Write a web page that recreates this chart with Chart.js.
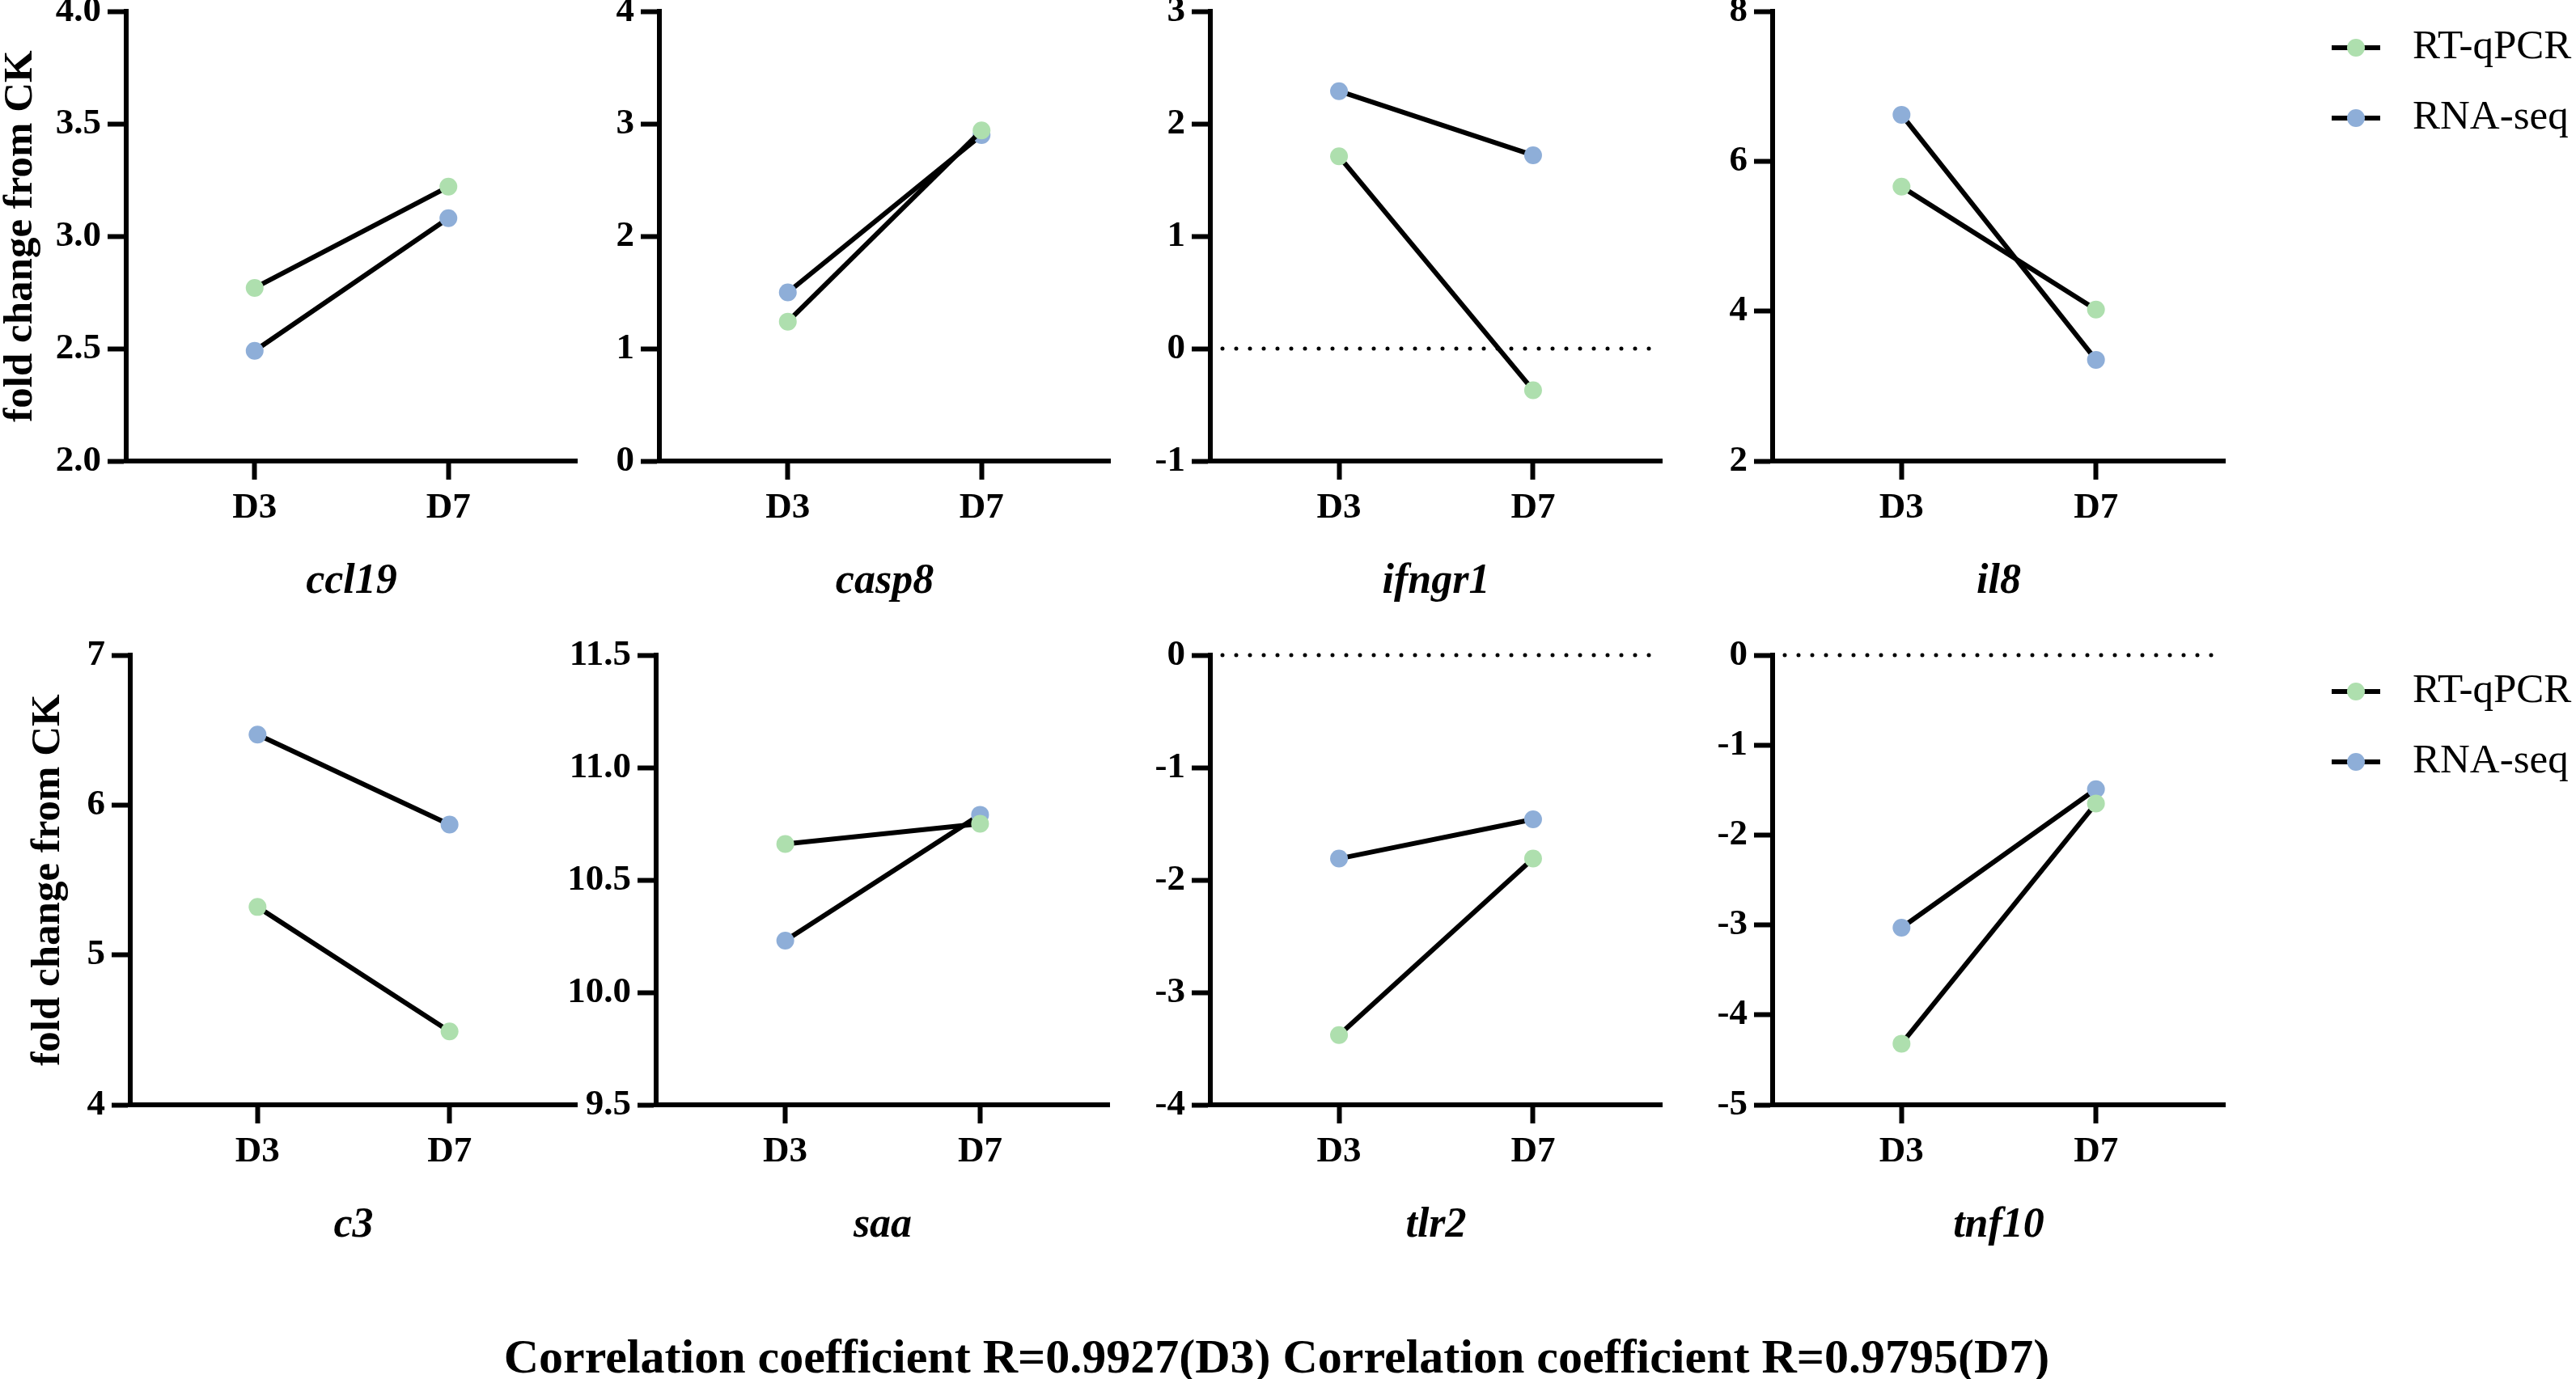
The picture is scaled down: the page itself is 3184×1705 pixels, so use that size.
<!DOCTYPE html>
<html>
<head>
<meta charset="utf-8">
<script src="https://cdn.jsdelivr.net/npm/chart.js@4.4.0/dist/chart.umd.min.js"></script>
<style>
  body { margin: 0; background: #fff; width: 3184px; height: 1705px; position: relative; overflow: hidden; font-family: "Liberation Serif", serif; }
  canvas { position: absolute; }
  #caption { position: absolute; left: 1578px; top: 1642px; transform: translateX(-50%); white-space: nowrap;
             font: bold 60px "Liberation Serif", serif; line-height: 70px; color: #000; }
</style>
</head>
<body>
<div id="caption">Correlation coefficient R=0.9927(D3) Correlation coefficient R=0.9795(D7)</div>
<script>
// data
const genes = ['ccl19', 'casp8', 'ifngr1', 'il8', 'c3', 'saa', 'tlr2', 'tnf10'];
const days = ['D3', 'D7'];
const seriesNames = ['RT-qPCR', 'RNA-seq'];
const rtqpcr = [[2.77, 3.22], [1.24, 2.94], [1.71, -0.37], [5.66, 4.02], [5.32, 4.49], [10.66, 10.75], [-3.38, -1.81], [-4.32, -1.65]];
const rnaseq = [[2.49, 3.08], [1.50, 2.90], [2.29, 1.72], [6.62, 3.35], [6.47, 5.87], [10.23, 10.79], [-1.81, -1.46], [-3.03, -1.49]];
const yMin = [2, 0, -1, 2, 4, 9.5, -4, -5];
const yMax = [4, 4, 3, 8, 7, 11.5, 0, 0];
const yStep = [0.5, 1, 1, 2, 1, 0.5, 1, 1];
const yDecimals = [1, 0, 0, 0, 0, 1, 0, 0];
const zeroLine = [false, false, true, false, false, false, true, true];

// look and layout
const seriesColors = ['#aedfae', '#8eaed8'];
const FONT = '"Liberation Serif", serif';
const axisLeft = [156, 815, 1496, 2191, 161, 811, 1496, 2191];
const axisRight = [714, 1373, 2055, 2750, 714, 1372, 2055, 2750];
const rowTop = [14, 810];
const plotH = 556;
const xH = 200;
const padTop = 40;

const zeroLinePlugin = {
  id: 'zeroLine',
  beforeDatasetsDraw(chart, args, opts) {
    if (!opts.show) return;
    const {ctx, chartArea, scales} = chart;
    const y = scales.y.getPixelForValue(0);
    ctx.save();
    ctx.strokeStyle = '#000';
    ctx.lineWidth = 5;
    ctx.lineCap = 'round';
    ctx.setLineDash([0, 17]);
    ctx.beginPath();
    ctx.moveTo(chartArea.left + 15, y);
    ctx.lineTo(chartArea.right - 5, y);
    ctx.stroke();
    ctx.restore();
  }
};

const seriesKeyPlugin = {
  id: 'seriesKey',
  afterDraw(chart, args, opts) {
    if (!opts.show) return;
    const {ctx, chartArea} = chart;
    chart.data.datasets.forEach((ds, k) => {
      const y = chartArea.top + 45 + k * 87;
      const cx = chartArea.right + 162;
      ctx.save();
      ctx.strokeStyle = '#000';
      ctx.lineWidth = 6;
      ctx.beginPath();
      ctx.moveTo(cx - 30, y);
      ctx.lineTo(cx + 30, y);
      ctx.stroke();
      ctx.fillStyle = ds.pointBackgroundColor;
      ctx.beginPath();
      ctx.arc(cx, y, 11, 0, Math.PI * 2);
      ctx.fill();
      ctx.fillStyle = '#000';
      ctx.font = '51px ' + FONT;
      ctx.textBaseline = 'middle';
      ctx.textAlign = 'left';
      ctx.fillText(ds.label, chartArea.right + 232, y);
      ctx.restore();
    });
  }
};

Chart.register(zeroLinePlugin, seriesKeyPlugin);

const tickGrid = {display: true, drawOnChartArea: false, drawTicks: true, tickLength: 23, tickWidth: 6, tickColor: '#000', color: '#000'};

genes.forEach((gene, i) => {
  const row = i < 4 ? 0 : 1;
  const hasTitle = i % 4 === 0;
  const isLast = i % 4 === 3;
  const yW = hasTitle ? axisLeft[i] : 140;
  const left = axisLeft[i] - yW;
  const padRight = isLast ? 3184 - axisRight[i] : 10;

  const canvas = document.createElement('canvas');
  canvas.width = axisRight[i] - left + padRight;
  canvas.height = padTop + plotH + xH;
  canvas.style.left = left + 'px';
  canvas.style.top = (rowTop[row] - padTop) + 'px';
  document.body.append(canvas);

  new Chart(canvas, {
    type: 'scatter',
    data: {
      datasets: [rtqpcr, rnaseq].map((s, k) => ({
        label: seriesNames[k],
        data: s[i].map((v, d) => ({x: d, y: v})),
        showLine: true,
        borderColor: '#000',
        borderWidth: 6,
        pointRadius: 11,
        pointHoverRadius: 11,
        pointBorderWidth: 0,
        pointBackgroundColor: seriesColors[k]
      }))
    },
    options: {
      responsive: false,
      animation: false,
      devicePixelRatio: 1,
      layout: {padding: {top: padTop, right: padRight, left: 0, bottom: 0}},
      scales: {
        x: {
          type: 'linear',
          min: -0.663,
          max: 1.663,
          afterBuildTicks: ax => { ax.ticks = days.map((d, k) => ({value: k})); },
          afterFit: ax => { ax.height = xH; },
          border: {display: true, color: '#000', width: 6},
          grid: tickGrid,
          ticks: {
            callback: v => days[v],
            font: {family: FONT, size: 45, weight: 'bold'},
            color: '#000',
            padding: 8,
            maxRotation: 0,
            autoSkip: false
          },
          title: {
            display: true,
            text: gene,
            color: '#000',
            font: {family: FONT, size: 52, weight: 'bold', style: 'italic'},
            padding: {top: 0, bottom: 19}
          }
        },
        y: {
          min: yMin[i],
          max: yMax[i],
          afterFit: ax => { ax.width = yW; },
          border: {display: true, color: '#000', width: 6},
          grid: tickGrid,
          ticks: {
            stepSize: yStep[i],
            callback: v => v.toFixed(yDecimals[i]),
            font: {family: FONT, size: 45, weight: 'bold'},
            color: '#000',
            padding: 8
          },
          title: {
            display: hasTitle,
            text: 'fold change from CK',
            color: '#000',
            font: {family: FONT, size: 51, weight: 'bold', lineHeight: 1},
            padding: {top: row === 0 ? 0 : 34, bottom: 0}
          }
        }
      },
      plugins: {
        legend: {display: false},
        tooltip: {enabled: false},
        zeroLine: {show: zeroLine[i]},
        seriesKey: {show: isLast}
      }
    }
  });
});
</script>
</body>
</html>
